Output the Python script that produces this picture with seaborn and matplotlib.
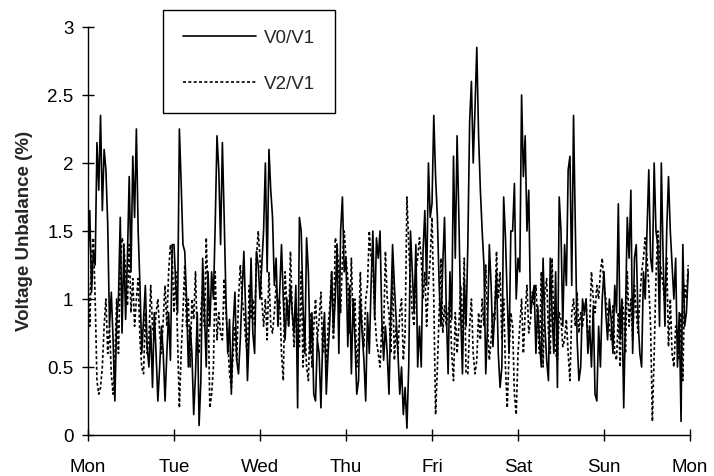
import numpy as np
import pandas as pd
import seaborn as sns
import matplotlib.pyplot as plt

days = ["Mon", "Tue", "Wed", "Thu", "Fri", "Sat", "Sun", "Mon"]

# V0/V1 readings, half-hourly, one list per day
v0_mon = [1.3, 1.65, 1.05, 1.35, 1.25, 2.15, 1.8, 2.35, 1.65, 2.1, 1.95, 1.55, 0.8, 1.05, 0.7, 0.25,
          0.85, 1.0, 1.6, 0.75, 1.4, 0.85, 1.3, 1.9, 1.2, 2.05, 1.6, 2.25, 1.5, 1.1, 0.6, 0.85,
          1.1, 0.65, 0.5, 0.8, 0.35, 0.9, 0.6, 0.25, 0.5, 0.8, 0.6, 0.25, 0.6, 0.9, 0.55, 1.4]
v0_tue = [1.4, 1.1, 0.9, 2.25, 1.85, 1.4, 1.35, 1.0, 0.5, 0.8, 0.6, 0.15, 0.45, 0.9, 0.07, 0.4,
          1.3, 0.9, 0.5, 1.2, 0.8, 1.2, 1.0, 1.55, 2.2, 1.95, 1.4, 2.15, 1.6, 1.0, 0.6, 0.85,
          0.3, 0.8, 1.05, 0.55, 0.45, 0.7, 1.05, 1.35, 0.9, 0.4, 0.75, 1.3, 0.75, 0.6, 1.35, 1.25]
v0_wed = [1.0, 1.25, 1.5, 2.0, 1.2, 2.1, 1.8, 1.6, 1.1, 1.3, 0.8, 1.05, 1.4, 1.0, 0.7, 1.0,
          0.8, 1.1, 0.9, 0.75, 1.1, 0.2, 1.6, 1.5, 0.95, 0.6, 1.45, 1.2, 0.6, 0.9, 0.3, 0.25,
          0.7, 0.6, 0.2, 0.7, 0.9, 0.3, 0.6, 0.85, 1.2, 0.75, 1.0, 1.4, 0.6, 1.5, 1.75, 1.2]
v0_thu = [1.3, 0.65, 1.1, 0.45, 1.0, 0.7, 0.3, 0.4, 1.0, 0.75, 0.55, 0.25, 0.9, 0.6, 1.1, 1.5,
          0.85, 1.45, 1.3, 1.5, 0.85, 0.55, 0.8, 0.6, 0.3, 0.9, 1.4, 1.1, 0.85, 0.6, 0.3, 0.5,
          0.15, 0.35, 0.05, 0.5, 1.5, 1.2, 0.9, 1.4, 0.5, 0.8, 0.5, 1.35, 1.65, 1.1, 2.0, 1.6]
v0_fri = [1.7, 2.35, 1.9, 1.6, 1.1, 0.8, 1.25, 1.6, 0.9, 0.45, 1.2, 0.85, 2.05, 1.3, 2.2, 1.6,
          0.9, 0.45, 1.15, 0.8, 1.4, 2.3, 2.6, 2.0, 2.4, 2.85, 2.2, 1.8, 1.5, 1.25, 0.45, 0.8,
          1.4, 1.1, 0.65, 0.9, 1.2, 0.6, 0.35, 0.5, 1.75, 1.45, 1.0, 0.6, 1.5, 1.5, 1.85, 1.0]
v0_sat = [1.3, 1.2, 2.5, 1.9, 2.2, 1.5, 1.8, 0.9, 1.0, 1.1, 0.6, 0.95, 0.7, 0.5, 1.3, 0.8,
          0.55, 0.4, 1.3, 0.9, 0.6, 1.2, 0.35, 1.75, 1.5, 0.8, 1.4, 1.1, 1.95, 2.05, 1.1, 2.35,
          1.5, 0.7, 0.4, 0.5, 1.0, 0.9, 1.0, 0.6, 0.8, 0.5, 0.95, 0.3, 0.25, 0.8, 0.5, 1.0]
v0_sun = [1.2, 0.9, 0.7, 1.0, 0.85, 0.6, 1.1, 0.9, 1.7, 0.7, 1.0, 0.2, 0.9, 1.6, 1.3, 1.8,
          0.6, 1.3, 1.4, 0.85, 0.6, 0.5, 1.2, 1.0, 1.5, 1.95, 1.3, 1.2, 2.0, 1.5, 1.4, 0.8,
          2.0, 1.3, 0.8, 1.5, 1.9, 1.5, 1.25, 1.0, 1.3, 0.5, 0.9, 0.1, 1.4, 0.8, 0.9, 1.2]

# V2/V1 readings
v2_mon = [1.2, 0.8, 1.3, 1.45, 1.0, 0.4, 0.3, 0.35, 0.5, 0.8, 1.0, 0.6, 0.8, 0.45, 0.3, 0.55,
          1.0, 0.6, 1.2, 1.45, 1.4, 1.2, 0.95, 1.4, 0.9, 1.15, 0.8, 1.0, 1.15, 0.7, 0.5, 0.45,
          0.9, 0.6, 0.7, 1.1, 0.8, 0.7, 0.9, 1.0, 0.75, 0.6, 0.85, 1.1, 0.8, 1.2, 1.4, 1.3]
v2_tue = [0.9, 1.2, 0.7, 0.2, 0.6, 0.9, 1.25, 0.8, 1.0, 0.5, 1.0, 0.85, 1.2, 0.7, 0.6, 0.9,
          1.1, 0.8, 1.45, 1.0, 0.2, 0.3, 0.5, 1.2, 0.7, 0.9, 0.75, 0.7, 1.15, 0.9, 0.7, 0.45,
          0.35, 0.6, 0.8, 0.55, 1.0, 1.25, 1.0, 0.9, 0.7, 0.6, 1.1, 0.85, 1.0, 0.8, 1.3, 1.5]
v2_wed = [1.3, 1.0, 0.8, 1.0, 0.7, 1.2, 0.8, 0.75, 0.9, 1.1, 0.95, 1.0, 0.6, 0.4, 1.2, 0.95,
          0.8, 1.35, 0.9, 0.65, 1.0, 0.8, 0.65, 1.2, 0.5, 0.8, 0.5, 0.4, 0.9, 0.5, 0.8, 1.0,
          0.7, 0.85, 1.05, 0.6, 0.75, 0.5, 0.8, 0.95, 1.2, 0.7, 1.45, 1.4, 1.2, 0.9, 1.3, 1.5]
v2_thu = [1.3, 1.15, 0.75, 1.3, 0.8, 1.0, 0.5, 0.7, 1.2, 0.8, 0.65, 1.0, 1.1, 1.5, 1.3, 1.25,
          0.9, 0.7, 0.6, 0.5, 0.8, 0.75, 1.35, 1.0, 0.9, 0.6, 1.2, 0.55, 0.8, 0.6, 0.9, 1.0,
          0.55, 0.75, 1.75, 1.4, 1.1, 0.9, 0.8, 1.2, 1.3, 1.45, 1.3, 1.0, 1.2, 0.8, 1.1, 1.3]
v2_fri = [1.6, 1.0, 0.15, 0.5, 0.9, 1.3, 0.75, 0.95, 0.8, 0.9, 1.0, 0.6, 0.4, 0.9, 0.6, 0.8,
          1.1, 0.7, 1.3, 0.45, 0.45, 0.8, 1.0, 0.6, 0.45, 0.55, 0.9, 0.7, 1.0, 0.8, 1.25, 0.8,
          0.55, 0.7, 0.9, 0.85, 1.35, 1.0, 1.2, 0.7, 1.0, 0.5, 0.2, 0.6, 0.9, 0.8, 0.3, 0.15]
v2_sat = [0.6, 0.8, 1.0, 0.6, 0.9, 1.1, 0.75, 0.85, 1.05, 0.95, 1.1, 0.8, 0.6, 1.2, 0.5, 1.05,
          1.15, 0.75, 0.6, 1.3, 0.8, 0.6, 0.55, 0.9, 0.85, 0.65, 0.7, 0.85, 0.6, 0.4, 0.9, 1.0,
          0.8, 1.05, 0.75, 0.9, 0.8, 0.9, 1.0, 0.7, 0.8, 1.2, 1.0, 0.9, 1.1, 1.0, 1.2, 1.3]
v2_sun = [1.1, 1.0, 0.9, 0.8, 0.7, 0.95, 0.6, 0.55, 0.9, 0.5, 1.0, 0.9, 0.6, 1.2, 0.8, 1.0,
          0.7, 1.1, 0.9, 0.75, 1.0, 1.2, 1.3, 1.45, 1.3, 1.1, 0.8, 0.1, 0.6, 1.15, 1.5, 1.3,
          1.2, 1.1, 0.95, 1.3, 0.65, 1.0, 0.6, 0.5, 0.8, 0.75, 0.55, 0.9, 0.4, 1.1, 1.0, 1.25]

v0_days = [v0_mon, v0_tue, v0_wed, v0_thu, v0_fri, v0_sat, v0_sun]
v2_days = [v2_mon, v2_tue, v2_wed, v2_thu, v2_fri, v2_sat, v2_sun]


def to_frame(day_lists, name):
    rows = []
    for d, vals in enumerate(day_lists):
        for i, v in enumerate(vals):
            rows.append((d + i / len(vals), v, name))
    return pd.DataFrame(rows, columns=["t", "value", "series"])


df0 = to_frame(v0_days, "V0/V1")
df2 = to_frame(v2_days, "V2/V1")

sns.set_style("ticks")
plt.rcParams["font.family"] = ["Liberation Sans", "DejaVu Sans"]

fig = plt.figure(figsize=(7.14, 4.76), dpi=100)
ax = fig.add_axes([88 / 714, 1 - 435 / 476, (690 - 88) / 714, (435 - 27) / 476])

sns.lineplot(data=df0, x="t", y="value", color="black", linewidth=1.2, ax=ax,
             label="V0/V1")
sns.lineplot(data=df2, x="t", y="value", color="black", linewidth=1.2, ax=ax,
             linestyle=(0, (1.8, 1.4)), label="V2/V1")

ax.set_xlim(0, 7)
ax.set_ylim(0, 3)
ax.set_xticks(range(8))
ax.set_xticklabels(days)
ax.set_yticks([0, 0.5, 1, 1.5, 2, 2.5, 3])
ax.set_yticklabels(["0", "0.5", "1", "1.5", "2", "2.5", "3"])
ax.tick_params(direction="inout", length=9, width=1, colors="black", labelsize=13.5)
ax.tick_params(axis="x", pad=13)
ax.tick_params(axis="y", pad=6)
ax.set_xlabel("")
ax.set_ylabel("Voltage Unbalance (%)", fontsize=13.5, fontweight="bold", labelpad=10)
for s in ["left", "bottom"]:
    ax.spines[s].set_color("black")
    ax.spines[s].set_linewidth(1)
sns.despine(ax=ax)

ax.get_legend().remove()
handles, labels = ax.get_legend_handles_labels()
leg = fig.legend(handles, labels, loc="upper left",
                 bbox_to_anchor=(163 / 714, 1 - 10 / 476),
                 fancybox=False, framealpha=1, edgecolor="black",
                 fontsize=13.5, handlelength=3.9, labelspacing=1.55,
                 borderpad=1.05, handletextpad=0.45, borderaxespad=0)
leg.get_frame().set_linewidth(1)

fig.savefig("out.png", dpi=100)
